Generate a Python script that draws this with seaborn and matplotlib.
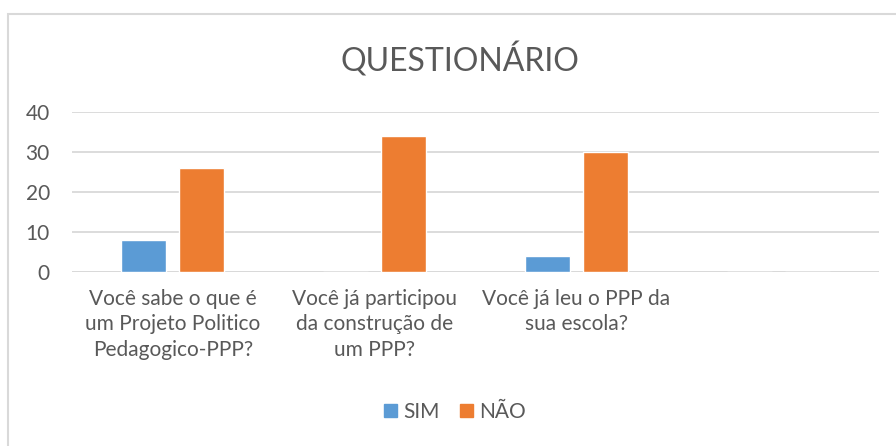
import matplotlib.pyplot as plt
import matplotlib.patches as mpatches
import pandas as pd
import seaborn as sns

categories = [
    "Você sabe o que é\num Projeto Politico\nPedagogico-PPP?",
    "Você já participou\nda construção de\num PPP?",
    "Você já leu o PPP da\nsua escola?",
    " ",
]
sim = [8, 0, 4, 0]
nao = [26, 34, 30, 0]
series = ["SIM", "NÃO"]
colors = {"SIM": "#5B9BD5", "NÃO": "#ED7D31"}

df = pd.DataFrame({
    "pergunta": categories * 2,
    "resposta": ["SIM"] * 4 + ["NÃO"] * 4,
    "valor": sim + nao,
})

sns.set_style("white")
plt.rcParams["font.family"] = ["Lato", "DejaVu Sans"]
txt = "#595959"

fig = plt.figure(figsize=(8.96, 4.46), dpi=100)
ax = fig.add_axes([72 / 896, 1 - 272 / 446, (879 - 72) / 896, 160 / 446])

sns.barplot(data=df, x="pergunta", y="valor", hue="resposta", hue_order=series,
            palette=colors, width=0.575, gap=0.22, ax=ax, legend=False,
            saturation=1)

ax.set_ylim(0, 40)
ax.set_xlim(-0.5, 3.5)
ax.set_yticks([0, 10, 20, 30, 40])
ax.yaxis.grid(True, color="#D9D9D9", linewidth=1.3)
ax.set_axisbelow(True)
for s in ax.spines.values():
    s.set_visible(False)
ax.axhline(0, color="#D9D9D9", linewidth=1.3, zorder=0.5)
ax.set_xlabel("")
ax.set_ylabel("")
ax.tick_params(axis="both", length=0, labelsize=15, colors=txt)
ax.tick_params(axis="y", pad=16)
ax.tick_params(axis="x", pad=12)
for lbl in ax.get_xticklabels():
    lbl.set_linespacing(1.35)

fig.text(460 / 896, 1 - 60 / 446, "QUESTIONÁRIO", ha="center", va="center",
         fontsize=23, color=txt)

handles = [mpatches.Patch(color=colors[s], label=s) for s in series]
fig.legend(handles=handles, loc="center", bbox_to_anchor=(455 / 896, 1 - 412 / 446),
           ncol=2, frameon=False, fontsize=15, labelcolor=txt,
           handlelength=0.6, handleheight=0.6, handletextpad=0.3, columnspacing=1.0)

fig.patches.append(mpatches.Rectangle((8 / 896, -0.1), 1.2, 1 - 14 / 446 + 0.1,
                                      transform=fig.transFigure, fill=False,
                                      edgecolor="#D9D9D9", linewidth=1.5))

fig.savefig("out.png", dpi=100, facecolor="white")
